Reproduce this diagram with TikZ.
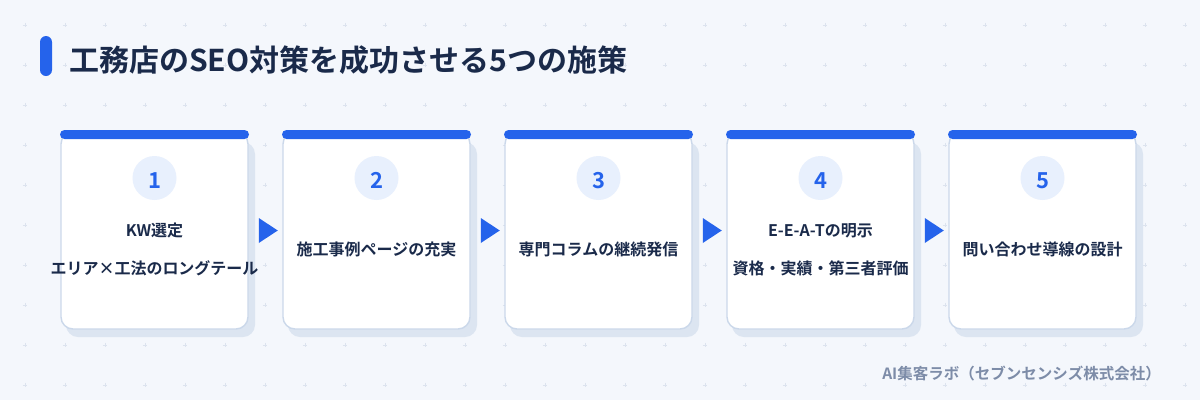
\documentclass[tikz,border=0pt]{standalone}
\usepackage{fontspec}
\setmainfont{Noto Sans CJK JP}[BoldFont={Noto Sans CJK JP Bold}]
\usetikzlibrary{shapes.geometric}
\definecolor{bgc}{HTML}{F4F7FC}
\definecolor{gridc}{HTML}{DCE3EE}
\definecolor{navy}{HTML}{1A2A4A}
\definecolor{accent}{HTML}{2563EB}
\definecolor{borderc}{HTML}{CBD8EA}
\definecolor{shadowc}{HTML}{DCE5F1}
\definecolor{circc}{HTML}{E8F0FD}
\definecolor{footc}{HTML}{7D8CA8}
\tikzset{
  card/.style={draw=borderc, line width=1.4pt, fill=white, rounded corners=12pt,
    minimum width=187pt, minimum height=197pt, inner sep=0pt, outer sep=0pt},
  numcirc/.style={circle, fill=circc, minimum size=44pt, inner sep=0pt},
  numtxt/.style={font=\fontsize{22}{26}\selectfont\bfseries, text=accent, inner sep=0pt, anchor=base},
  cardtxt/.style={font=\fontsize{16}{20}\selectfont\bfseries, text=navy, inner sep=0pt, anchor=base},
  tri/.style={isosceles triangle, isosceles triangle stretches, fill=accent,
    minimum height=19pt, minimum width=25pt, inner sep=0pt},
  plusmark/.style={draw=gridc, line width=0.8pt}
}
\begin{document}
\begin{tikzpicture}[x=1pt,y=-1pt]
\fill[bgc] (0,0) rectangle (1200,400);
\useasboundingbox (0,0) rectangle (1200,400);
% grid of plus marks
\foreach \i in {0,...,29}{
  \foreach \j in {0,...,9}{
    \pgfmathsetmacro\gx{25+40*\i}
    \pgfmathsetmacro\gy{25+40*\j}
    \draw[plusmark] (\gx-2.2,\gy) -- (\gx+2.2,\gy) (\gx,\gy-2.2) -- (\gx,\gy+2.2);
  }
}
% title
\fill[accent, rounded corners=6pt] (40,36) rectangle (52,76);
\node[anchor=base west, inner sep=0pt, font=\fontsize{30}{36}\selectfont\bfseries, text=navy] (title) at (69,71) {工務店のSEO対策を成功させる5つの施策};
% cards
\foreach \i in {1,...,5}{
  \pgfmathsetmacro\cx{154.5+222*(\i-1)}
  \fill[shadowc, rounded corners=12pt] (\cx-94.5+6,142) rectangle (\cx+94.5+6,337);
  \node[card] (c\i) at (\cx,230.5) {};
  \fill[accent, rounded corners=4.5pt] (\cx-94.5,130) rectangle (\cx+94.5,139);
  \node[numcirc] (n\i) at (\cx,178) {};
  \node[numtxt] (t\i) at (\cx,188) {\i};
}
% arrows between cards
\foreach \i in {1,...,4}{
  \pgfmathsetmacro\ax{265.5+222*(\i-1)}
  \node[tri] (a\i) at (\ax,230.5) {};
}
% card texts
\node[cardtxt] (l1a) at (154.5,236) {KW選定};
\node[cardtxt] (l1b) at (154.5,274) {エリア×工法のロングテール};
\node[cardtxt] (l2) at (376.5,255) {施工事例ページの充実};
\node[cardtxt] (l3) at (598.5,255) {専門コラムの継続発信};
\node[cardtxt] (l4a) at (820.5,236) {E-E-A-Tの明示};
\node[cardtxt] (l4b) at (820.5,274) {資格・実績・第三者評価};
\node[cardtxt] (l5) at (1042.5,255) {問い合わせ導線の設計};
% footer
\node[anchor=base east, inner sep=0pt, font=\fontsize{15.5}{18}\selectfont\bfseries, text=footc] (foot) at (1161,379) {AI集客ラボ（セブンセンシズ株式会社）};
\end{tikzpicture}
\end{document}
